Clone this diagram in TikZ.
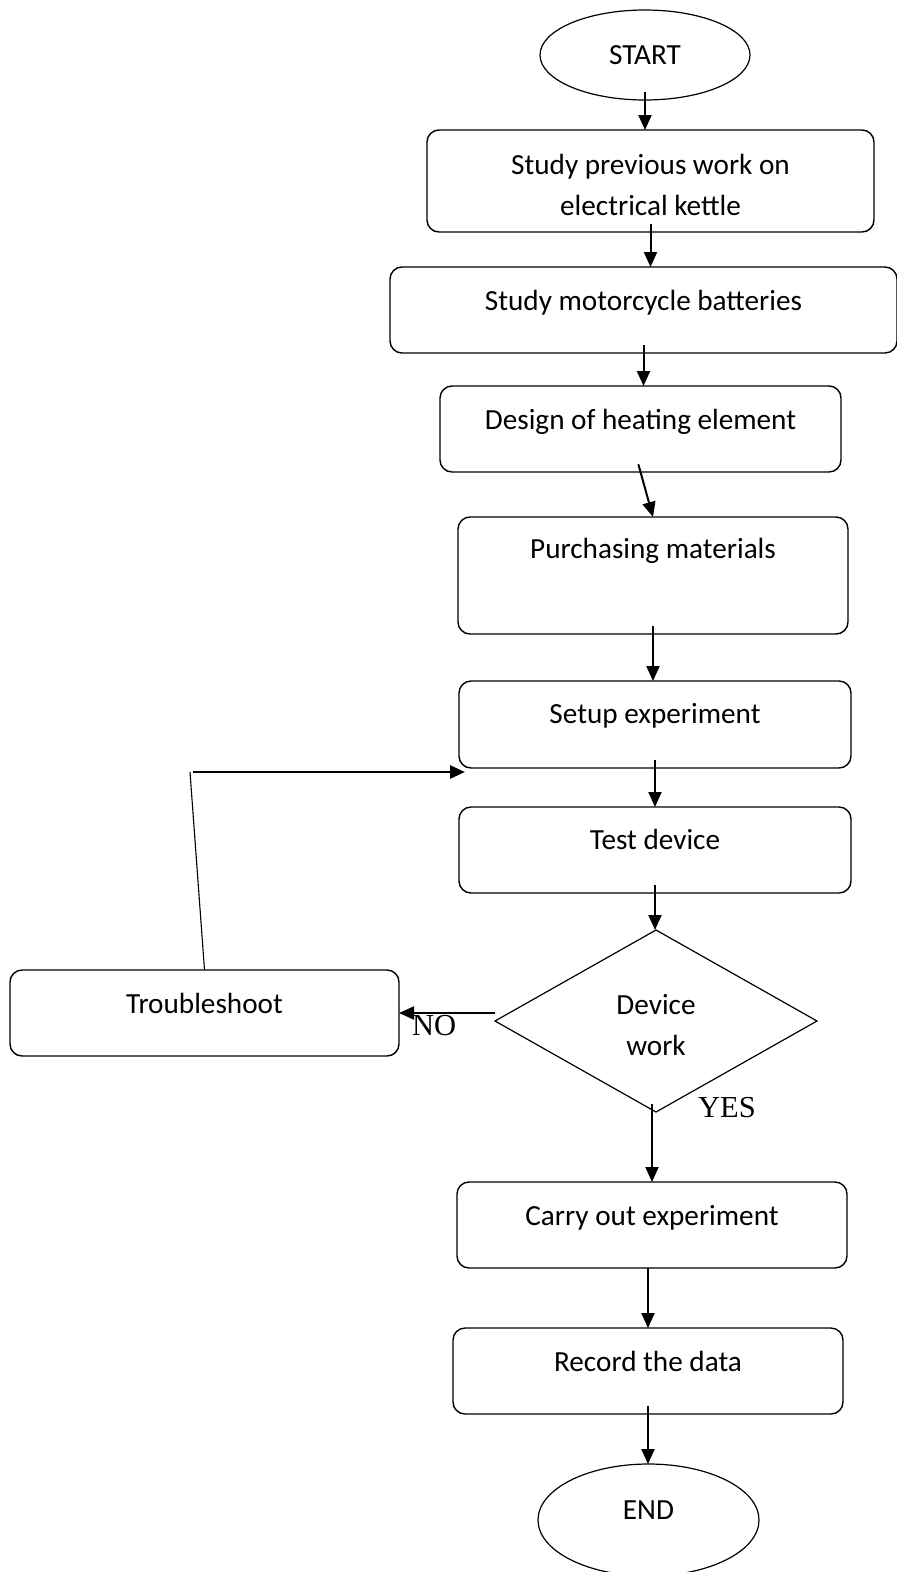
\documentclass[tikz,border=0pt]{standalone}
\usepackage{fontspec}
\setmainfont{Carlito}
\newfontfamily\answerfont{Liberation Serif}
\usepackage{tikz}
\usetikzlibrary{arrows.meta, positioning, shapes.geometric}

\begin{document}
\begin{tikzpicture}[
  x=1pt, y=-1pt,
  box/.style={draw, rounded corners=12pt, line width=1.4pt, inner sep=0pt, outer sep=0pt,
              minimum width=390pt, text height=43pt, text depth=43pt},
  term/.style={draw, ellipse, line width=1.2pt, inner sep=0pt, outer sep=0pt},
  arr/.style={-{Triangle[length=15pt, width=13pt]}, line width=2pt},
  flow/.style={arr, shorten <=-8pt},
  answer/.style={font=\answerfont\fontsize{30.5}{36}\selectfont, inner sep=0pt},
  every node/.style={font=\fontsize{29.2}{41}\selectfont}
]
  \useasboundingbox (0,0) rectangle (897,1572);

  % Main column
  \node[term, minimum width=210pt, minimum height=90pt] (start) at (645,55) {START};
  \node[box, minimum width=447pt, align=center, text height=85pt, text depth=17pt,
        below=30pt of start, xshift=5.5pt] (prev) {Study previous work on\\electrical kettle};
  \node[box, minimum width=507pt, below=35pt of prev, xshift=-7pt] (batt) {Study motorcycle batteries};
  \node[box, minimum width=401pt, below=33pt of batt, xshift=-3pt] (design) {Design of heating element};
  \node[box, text height=41pt, text depth=76pt, below=45pt of design, xshift=12.5pt] (buy) {Purchasing materials};
  \node[box, minimum width=392pt, text height=42pt, text depth=45pt,
        below=47pt of buy, xshift=2pt] (setup) {Setup experiment};
  \node[box, minimum width=392pt, text height=42pt, text depth=44pt,
        below=39pt of setup] (test) {Test device};
  \node[draw, diamond, line width=1.2pt, inner sep=0pt, outer sep=0pt, minimum width=322pt,
        minimum height=182pt, align=center, text height=75pt, text depth=7pt,
        below=37pt of test, xshift=1pt] (works) {Device\\work};
  \node[box, below=70pt of works, xshift=-4pt] (carry) {Carry out experiment};
  \node[box, below=60pt of carry, xshift=-4pt] (record) {Record the data};
  \node[term, minimum width=221pt, minimum height=112pt, text depth=20pt,
        below=50pt of record, xshift=0.5pt] (end) {END};

  % Side branch
  \node[box, minimum width=389pt, left=96pt of works, yshift=8pt] (fix) {Troubleshoot};
  \node[answer, anchor=base west, xshift=13pt, yshift=-22pt] (no) at (fix.east) {NO};
  \node[answer, anchor=base west, xshift=42pt, yshift=-5pt] (yes) at (works.south) {YES};

  % Arrows
  \draw[flow] (start.south) -- (start.south |- prev.north);
  \draw[flow] (prev.south) -- (prev.south |- batt.north);
  \draw[flow] (batt.south) -- (batt.south |- design.north);
  \draw[flow] (design.south) -- (buy.north);
  \draw[flow] (buy.south) -- (buy.south |- setup.north);
  \draw[flow] (setup.south) -- (setup.south |- test.north);
  \draw[flow] (test.south) -- (test.south |- works.north);
  \draw[flow] (carry.north |- works.south) -- (carry.north);
  \draw[arr] (record.north |- carry.south) -- (record.north);
  \draw[flow] (record.south) -- (record.south |- end.north);
  \draw[arr] (works.west |- fix.east) -- (fix.east);

  % Loop back to setup
  \coordinate (back) at ([xshift=6pt, yshift=-4pt]setup.south west);
  \coordinate (turn) at ([xshift=-14.5pt]back -| fix.north);
  \draw[line width=1.1pt] (fix.north) -- (turn);
  \draw[arr, line width=2.6pt] ([xshift=3pt]turn) -- (back);
\end{tikzpicture}
\end{document}
